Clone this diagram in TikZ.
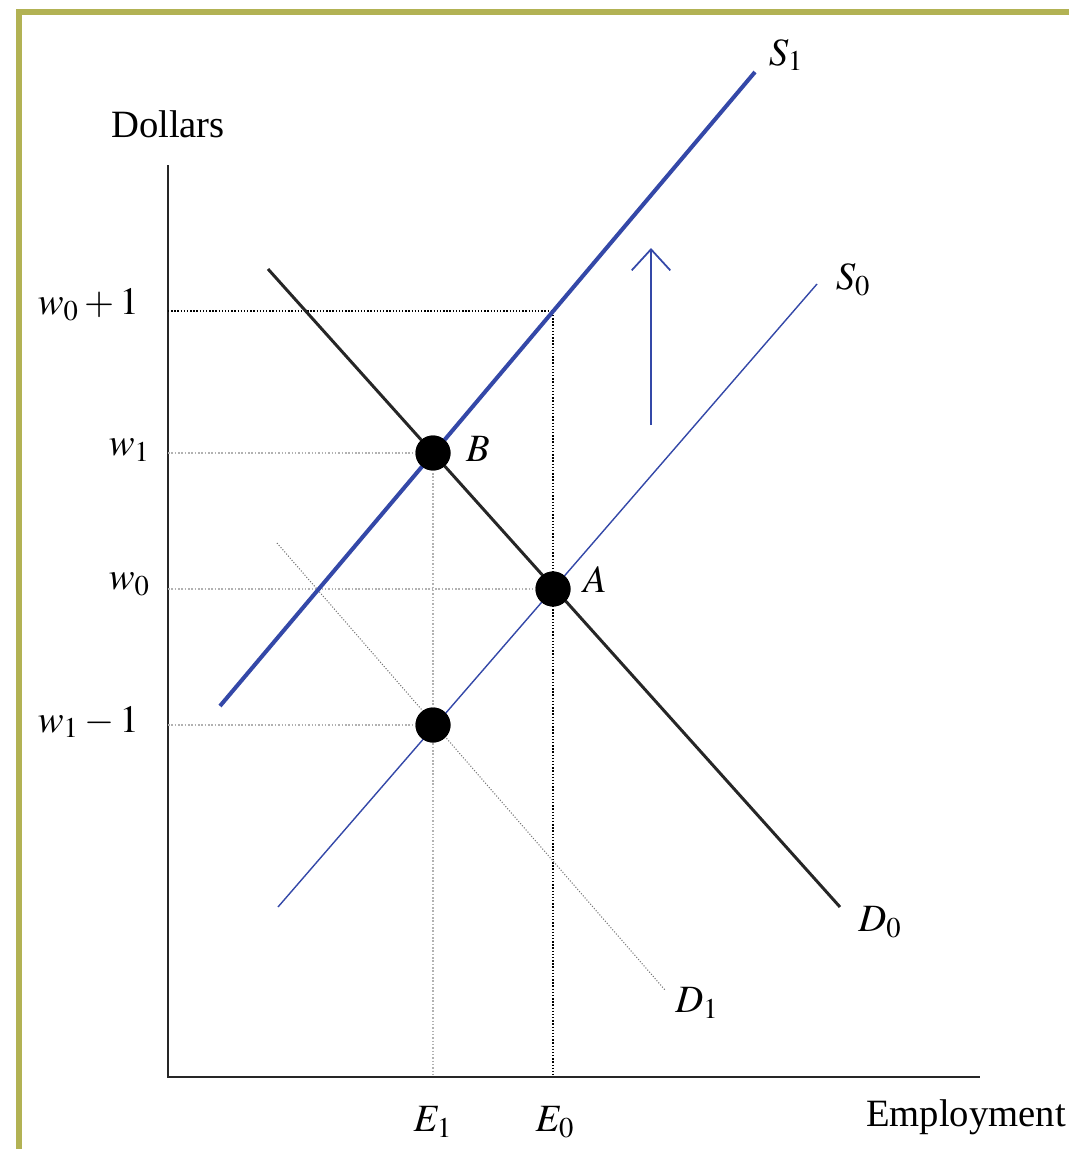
\documentclass[tikz,border=0pt]{standalone}
\usepackage{mathptmx}
\usepackage[no-math]{fontspec}
\setmainfont{Liberation Serif}
\usepackage{xcolor}
\usetikzlibrary{arrows.meta, positioning}
\definecolor{frameolive}{RGB}{178,178,84}
\definecolor{supblue}{RGB}{52,72,168}

\begin{document}
\begin{tikzpicture}[x=0.02cm, y=-0.02cm,
  every node/.style={font=\fontsize{22}{26}\selectfont, inner sep=1pt},
  frame/.style={line width=3pt, frameolive},
  axis/.style={line width=1.1pt, black!85},
  demand/.style={line width=1.7pt, black!85},
  newdemand/.style={line width=0.6pt, black!55, densely dotted},
  supply/.style={line width=0.8pt, supblue},
  newsupply/.style={line width=2.3pt, supblue},
  guide/.style={line width=0.9pt, black!30, densely dotted},
  guidedark/.style={line width=0.8pt, black, densely dotted},
  eqpt/.style={circle, fill=black, inner sep=0pt, minimum size=0.7cm},
  shiftarr/.style={-{Straight Barb[length=12pt, width=22pt]}, line width=1pt, supblue}
]
  \useasboundingbox (0,0) rectangle (1069,1149);

  % ── Frame ─────────────────────────────────────────────────────
  \coordinate (fr_tl) at (19,12);
  \coordinate (fr_tr) at (1069,12);
  \coordinate (fr_bl) at (19,1149);
  \draw[frame] (fr_bl) -- (fr_tl) -- (fr_tr);

  % ── Axes ──────────────────────────────────────────────────────
  \coordinate (origin) at (168,1077);
  \coordinate (ytop)   at (168,165);
  \coordinate (xend)   at (980,1077);
  \draw[axis] (ytop) -- (origin) -- (xend);
  \node (dollars) at (168,124) {Dollars};
  \node[anchor=east] (employ) at (1068,1117) {Employment};

  % ── Equilibrium points ────────────────────────────────────────
  \node[eqpt] (ptA) at (553,589) {};
  \node[eqpt] (ptB) at (433,453) {};
  \node[eqpt] (ptC) at (433,725) {};
  \coordinate (ptS) at (553,311);

  % ── Axis feet ─────────────────────────────────────────────────
  \coordinate (yw01) at (168,311);
  \coordinate (yw1)  at (168,453);
  \coordinate (yw0)  at (168,589);
  \coordinate (yw11) at (168,725);
  \coordinate (xE1)  at (433,1077);
  \coordinate (xE0)  at (553,1077);

  % ── Guide lines ───────────────────────────────────────────────
  \draw[guidedark] (yw01) -- (ptS) -- (xE0);
  \draw[guide] (yw1) -- (ptB.center);
  \draw[guide] (yw0) -- (ptA.center);
  \draw[guide] (yw11) -- (ptC.center);
  \draw[guide] (ptB.center) -- (xE1);

  % ── Curves ────────────────────────────────────────────────────
  \coordinate (d1_a) at (277,543);
  \coordinate (d1_b) at (665,990);
  \coordinate (d0_a) at (268,269);
  \coordinate (d0_b) at (840,907);
  \coordinate (s0_a) at (278,907);
  \coordinate (s0_b) at (817,284);
  \coordinate (s1_a) at (220,706);
  \coordinate (s1_b) at (755,72);
  \draw[newdemand] (d1_a) -- (d1_b);
  \draw[supply] (s0_a) -- (s0_b);
  \draw[demand] (d0_a) -- (d0_b);
  \draw[newsupply] (s1_a) -- (s1_b);

  % redraw dots above the curves
  \foreach \p in {ptA, ptB, ptC}
    \fill (\p) circle (0.35cm);

  % ── Shift arrow ───────────────────────────────────────────────
  \coordinate (sh_a) at (651,425);
  \coordinate (sh_b) at (651,248);
  \draw[shiftarr] (sh_a) -- (sh_b);

  % ── Curve labels ──────────────────────────────────────────────
  \node (labS1) at (786,55)   {$S_1$};
  \node (labS0) at (853,280)  {$S_0$};
  \node (labD0) at (880,922)  {$D_0$};
  \node (labD1) at (697,1003) {$D_1$};
  \node (labA)  at (595,580)  {$A$};
  \node (labB)  at (478,449)  {$B$};

  % ── Axis labels ───────────────────────────────────────────────
  \node[anchor=east] (lw01) at (141,305) {$w_0+1$};
  \node[anchor=east] (lw1)  at (152,450) {$w_1$};
  \node[anchor=east] (lw0)  at (152,584) {$w_0$};
  \node[anchor=east] (lw11) at (141,722) {$w_1-1$};
  \node (lE1) at (433,1122) {$E_1$};
  \node (lE0) at (555,1122) {$E_0$};

\end{tikzpicture}
\end{document}
